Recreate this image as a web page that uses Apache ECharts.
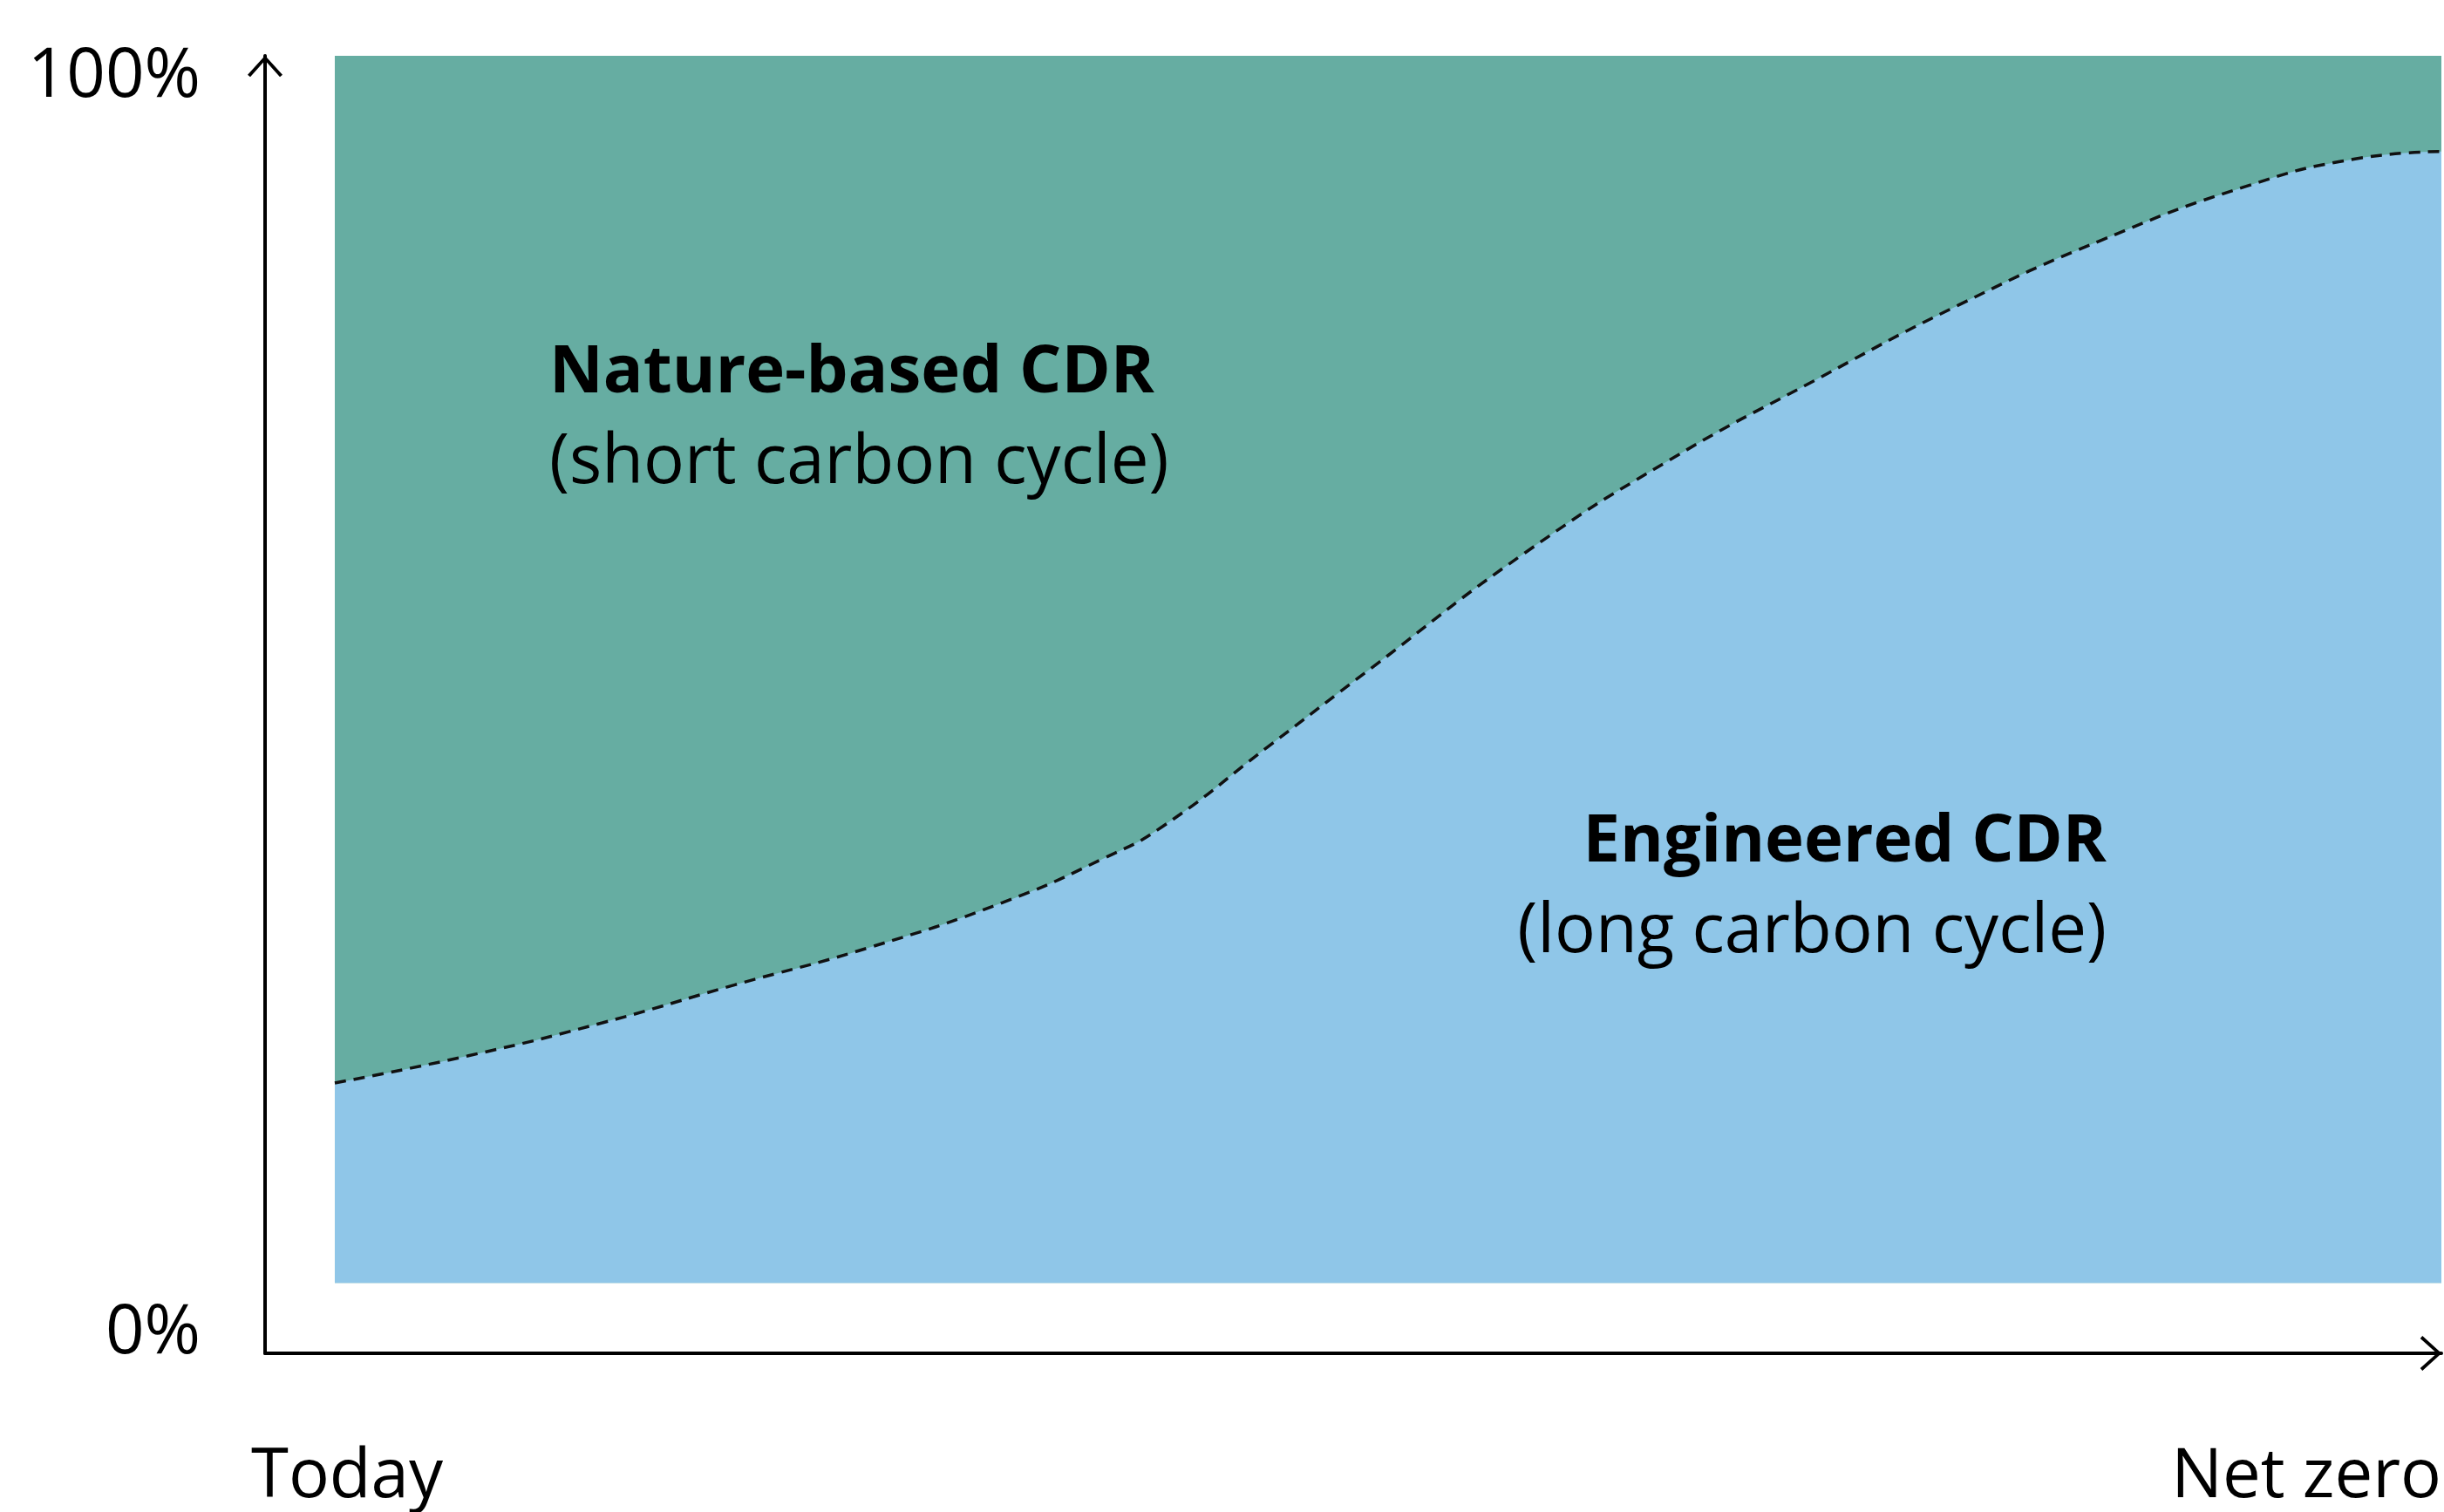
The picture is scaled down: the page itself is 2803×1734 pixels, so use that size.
<!DOCTYPE html>
<html>
<head>
<meta charset="utf-8">
<title>Nature-based vs engineered CDR</title>
<script src="https://cdn.jsdelivr.net/npm/echarts@6/dist/echarts.min.js"></script>
<style>
  html, body { margin: 0; padding: 0; background: #fff; }
  #chart { width: 2803px; height: 1734px; }
</style>
</head>
<body>
<div id="chart"></div>
<script>
// progress from today (0) to net zero (100)
const progress = [0, 6.3, 12.7, 19, 25.3, 31.7, 36.5, 39.3, 44.3, 49.2, 56.5, 63.4, 70.2, 77.1, 83.9, 90.8, 95.9, 100];
// share of engineered CDR, %
const engineered = [16.3, 18.5, 21.2, 24.3, 27.3, 31.0, 34.6, 37.2, 43.7, 50.1, 59.5, 67.1, 73.5, 79.7, 85.0, 89.4, 91.6, 92.2];
// the rest is nature-based
const natureBased = engineered.map(v => +(100 - v).toFixed(1));

const xTicks = [0, 100];
const xTickLabels = ['Today', 'Net zero'];
const yTicks = [0, 100];
const yTickLabels = ['0%', '100%'];

const FONT = '"Open Sans", "DejaVu Sans", sans-serif';
const GREEN = '#66ADA2';
const BLUE = '#8FC6E8';
// open chevron, tip at the top
const chevron = 'path://M0,22 L20,0 L40,22 L37,24.5 L20,5.5 L3,24.5 Z';

const chart = echarts.init(document.getElementById('chart'));
chart.setOption({
  animation: false,
  backgroundColor: '#fff',
  grid: { left: 304, right: 2, top: 57, bottom: 182, containLabel: false },
  xAxis: {
    type: 'value',
    min: -3.31,
    max: 100,
    splitLine: { show: false },
    axisTick: { show: false },
    axisLine: {
      onZero: false,
      lineStyle: { color: '#000', width: 4 },
      symbol: ['none', chevron],
      symbolSize: [40, 25],
      symbolOffset: [0, -12]
    },
    axisLabel: {
      customValues: xTicks,
      formatter: v => xTickLabels[xTicks.indexOf(v)],
      color: '#000',
      fontFamily: FONT,
      fontSize: 78,
      margin: 104,
      padding: [0, 0, 0, 28],
      alignMinLabel: 'center',
      alignMaxLabel: 'right'
    }
  },
  yAxis: {
    type: 'value',
    min: -5.73,
    max: 100,
    splitLine: { show: false },
    axisTick: { show: false },
    axisLine: {
      onZero: false,
      lineStyle: { color: '#000', width: 4 },
      symbol: ['none', chevron],
      symbolSize: [40, 25],
      symbolOffset: [0, -12]
    },
    axisLabel: {
      customValues: yTicks,
      formatter: v => (v === 100 ? '{hi|' : '{lo|') + yTickLabels[yTicks.indexOf(v)] + '}',
      margin: 74,
      rich: {
        hi: { color: '#000', fontFamily: FONT, fontSize: 78, lineHeight: 78, padding: [50, 0, 0, 0] },
        lo: { color: '#000', fontFamily: FONT, fontSize: 78, lineHeight: 78, padding: [116, 0, 0, 0] }
      }
    }
  },
  series: [
    {
      // drawn underneath: engineered + nature-based = the whole
      name: 'Nature-based CDR',
      type: 'line',
      smooth: 0.5,
      symbol: 'none',
      z: 2,
      lineStyle: { width: 0 },
      areaStyle: { color: GREEN, opacity: 1 },
      data: progress.map((x, i) => [x, engineered[i] + natureBased[i]])
    },
    {
      name: 'Engineered CDR',
      type: 'line',
      smooth: 0.5,
      symbol: 'none',
      z: 3,
      lineStyle: { color: '#111', width: 3.5, type: [13, 9] },
      areaStyle: { color: BLUE, opacity: 1 },
      data: progress.map((x, i) => [x, engineered[i]])
    }
  ],
  graphic: [
    {
      type: 'text',
      x: 630,
      y: 376,
      z: 10,
      style: {
        text: '{b|Nature-based CDR}\n{r|(short carbon cycle)}',
        align: 'left',
        verticalAlign: 'top',
        rich: {
          b: { fontFamily: FONT, fontWeight: 'bold', fontSize: 76, lineHeight: 104, fill: '#000' },
          r: { fontFamily: FONT, fontSize: 78, lineHeight: 104, fill: '#000' }
        }
      }
    },
    {
      type: 'text',
      x: 2416,
      y: 914,
      z: 10,
      style: {
        text: '{b|Engineered CDR}\n{r|(long carbon cycle)}',
        align: 'right',
        verticalAlign: 'top',
        rich: {
          b: { fontFamily: FONT, fontWeight: 'bold', fontSize: 76, lineHeight: 104, fill: '#000', align: 'right' },
          r: { fontFamily: FONT, fontSize: 78, lineHeight: 104, fill: '#000', align: 'right' }
        }
      }
    }
  ]
});
</script>
</body>
</html>
